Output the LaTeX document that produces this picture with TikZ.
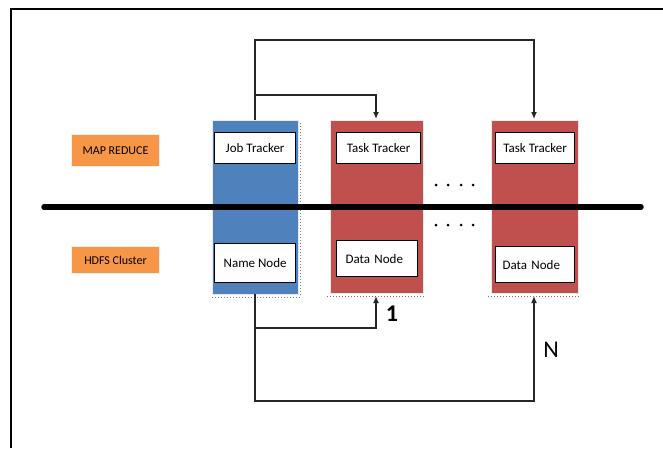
\documentclass[tikz,border=0pt]{standalone}
\usepackage{fontspec}
\setmainfont{Carlito}
\usetikzlibrary{arrows.meta}
\definecolor{hblue}{HTML}{4F81BD}
\definecolor{hred}{HTML}{C0504D}
\definecolor{horange}{HTML}{F79646}
\begin{document}
\begin{tikzpicture}[x=1pt,y=-1pt,
  colbox/.style={draw=black!8,line width=1.2pt,inner sep=0pt,anchor=north west},
  inbox/.style={draw=black,line width=1.2pt,fill=white,inner sep=0pt,anchor=north west,font=\fontsize{13}{15}\selectfont},
  leftbox/.style={inbox,align=left,inner xsep=#1},
  tagbox/.style={fill=horange,draw=black!6,line width=1pt,inner sep=0pt,anchor=north west,font=\fontsize{12}{14}\selectfont},
  conn/.style={draw=black!85,line width=1.3pt},
  arr/.style={conn,-{Latex[length=7pt,width=6pt]}},
  shadowline/.style={draw=hred!50!gray,dotted,line width=1pt}
]
\useasboundingbox (0,0) rectangle (663,448);
% outer frame (top and left only)
\draw[line width=1.4pt] (11,448) -- (11,9) -- (663,9);
% tags
\node[tagbox,minimum width=88pt,minimum height=32pt] (mr) at (71,134) {MAP REDUCE};
\node[tagbox,minimum width=88pt,minimum height=27pt] (hc) at (71,246) {HDFS Cluster};
% columns
\node[colbox,fill=hblue,minimum width=86pt,minimum height=174pt] (blue) at (212,120) {};
\node[colbox,fill=hred,minimum width=93pt,minimum height=173pt] (red1) at (330,120) {};
\node[colbox,fill=hred,minimum width=87pt,minimum height=173pt] (red2) at (491,120) {};
% shadows
\draw[draw=hblue!50!gray,dotted,line width=1pt] (212,297) -- (300,297) -- (300,122);
\draw[shadowline] (327,296) -- (426,296);
\draw[shadowline] (488,296) -- (581,296);
% inner boxes
\node[inbox,minimum width=81pt,minimum height=31pt] (jt) at (214,132) {Job Tracker};
\node[inbox,minimum width=81pt,minimum height=39pt] (nn) at (214,243) {Name Node};
\node[inbox,minimum width=84pt,minimum height=31pt] (tt1) at (336,132) {Task Tracker};
\node[leftbox=9pt,text width=63pt,minimum height=36pt] (dn1) at (336,240) {Data Node};
\node[inbox,minimum width=79pt,minimum height=31pt] (tt2) at (495,132) {Task Tracker};
\node[leftbox=7pt,text width=65pt,minimum height=36pt] (dn2) at (495,246) {Data Node};
% thick separator
\draw[line width=5.5pt,line cap=round] (44,207) -- (641,207);
% dots
\foreach \x in {436,448,461,473}{
  \fill (\x,185) circle (1.5pt);
  \fill (\x,225) circle (1.5pt);
}
% coordinates for connectors
\coordinate (bt) at (255,120);
\coordinate (bb) at (255,294);
\coordinate (r1t) at (376,119);
\coordinate (r2t) at (534,119);
\coordinate (r1b) at (376,296);
\coordinate (r2b) at (534,296);
% top connectors
\draw[arr] (bt) -- (255,40) -- (534,40) -- (r2t);
\draw[arr] (255,95) -- (376,95) -- (r1t);
% bottom connectors
\draw[arr] (bb) -- (255,401) -- (534,401) -- (r2b);
\draw[arr] (255,328) -- (376,328) -- (r1b);
% labels
\node[font=\fontsize{24}{26}\selectfont\bfseries] (l1) at (392,314) {1};
\node[font=\fontsize{24}{26}\selectfont] (lN) at (551,350) {N};
\end{tikzpicture}
\end{document}
